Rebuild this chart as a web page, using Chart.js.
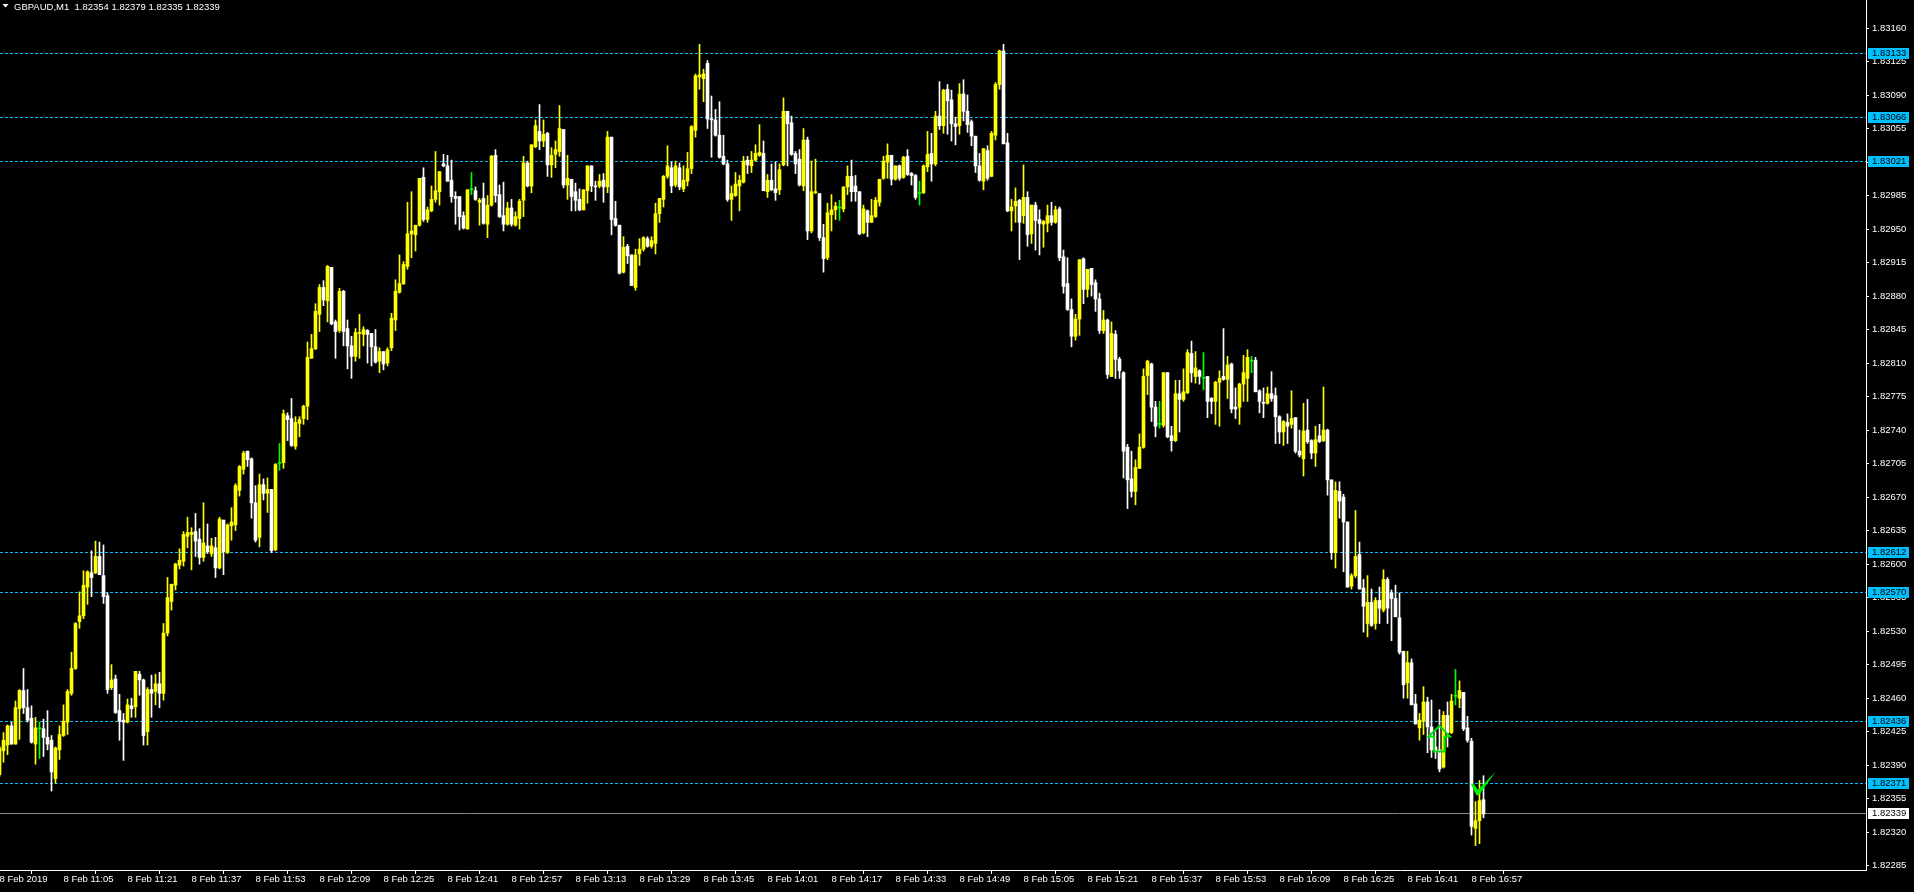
<!DOCTYPE html>
<html>
<head>
<meta charset="utf-8">
<title>GBPAUD,M1</title>
<script src="https://cdn.jsdelivr.net/npm/chart.js@4.4.1/dist/chart.umd.min.js"></script>
<style>
  html, body { margin: 0; padding: 0; background: #000; overflow: hidden; }
</style>
</head>
<body>
<canvas id="chart" width="1914" height="892"></canvas>
<script>
const symbol = "GBPAUD,M1";

// M1 bars from 10:49 to 17:00, prices in points (0.00001) above 1.82000
const basePrice = 1.82;
const open = [
  380, 405, 411, 431, 412, 449, 468, 450, 439, 412,
  428, 428, 419, 416, 376, 406, 421, 435, 465, 491,
  540, 546, 576, 591, 591, 608, 588, 567, 471, 480,
  447, 437, 435, 452, 451, 485, 479, 425, 469, 467,
  475, 465, 528, 561, 578, 599, 603, 629, 631, 634,
  626, 607, 619, 611, 617, 596, 646, 612, 640, 641,
  677, 699, 718, 710, 664, 628, 683, 674, 678, 615,
  705, 706, 755, 752, 723, 747, 752, 765, 815, 825,
  861, 889, 875, 910, 853, 844, 885, 846, 828, 817,
  841, 840, 844, 841, 827, 812, 822, 810, 826, 855,
  884, 893, 911, 945, 944, 954, 1004, 960, 969, 981,
  989, 1018, 1016, 1001, 984, 984, 964, 950, 991, 990,
  978, 982, 955, 975, 1027, 986, 964, 955, 972, 954,
  961, 980, 1019, 995, 1036, 1052, 1042, 1050, 1017, 1028,
  1031, 1054, 996, 1002, 989, 981, 970, 990, 1016, 995,
  995, 1001, 994, 1046, 961, 954, 905, 932, 923, 889,
  924, 929, 940, 932, 935, 966, 981, 1005, 1014, 996,
  1014, 992, 1000, 1013, 1053, 1109, 1107, 1123, 1065, 1064,
  1048, 1026, 1018, 981, 985, 995, 999, 1022, 1016, 1022,
  1027, 1029, 989, 1001, 992, 991, 1017, 1073, 1061, 1029,
  1023, 995, 1043, 948, 988, 987, 941, 920, 965, 970,
  972, 971, 994, 1005, 995, 989, 946, 969, 957, 963,
  978, 1003, 1020, 1027, 1002, 1016, 1004, 1026, 1008, 1006,
  987, 988, 1015, 1029, 1018, 1068, 1058, 1096, 1085, 1060,
  1058, 1091, 1073, 1062, 1047, 1016, 1000, 1032, 1005, 1048,
  1101, 1136, 1040, 969, 974, 980, 964, 983, 945, 975,
  960, 955, 956, 964, 957, 971, 921, 893, 866, 838,
  856, 919, 887, 909, 894, 877, 844, 855, 796, 840,
  814, 800, 722, 689, 676, 700, 722, 797, 809, 764,
  746, 745, 800, 734, 729, 778, 772, 779, 820, 796,
  802, 794, 796, 773, 770, 790, 796, 793, 809, 764,
  764, 788, 794, 812, 813, 781, 769, 768, 778, 776,
  754, 738, 748, 746, 753, 718, 710, 740, 729, 716,
  734, 729, 740, 688, 612, 676, 670, 644, 577, 588,
  610, 575, 538, 560, 538, 562, 552, 584, 570, 564,
  544, 509, 476, 497, 454, 429, 436, 456, 430, 409,
  406, 388, 442, 424, 462, 460, 466, 429, 415, 324,
  332, 354,
];
const high = [
  410, 424, 432, 435, 457, 469, 491, 469, 452, 440,
  435, 438, 447, 421, 409, 431, 453, 469, 508, 539,
  571, 593, 593, 614, 624, 623, 620, 570, 495, 484,
  464, 444, 459, 460, 488, 488, 480, 471, 484, 485,
  487, 538, 586, 579, 601, 616, 634, 649, 638, 653,
  637, 664, 642, 627, 628, 649, 646, 642, 659, 684,
  703, 718, 718, 711, 682, 694, 689, 690, 678, 705,
  726, 761, 758, 773, 754, 754, 766, 832, 840, 872,
  892, 896, 912, 910, 855, 888, 886, 855, 838, 846,
  861, 848, 845, 841, 845, 826, 822, 826, 862, 897,
  923, 916, 978, 989, 954, 1003, 1014, 973, 995, 1031,
  1010, 1028, 1027, 1022, 989, 984, 968, 991, 1009, 994,
  982, 998, 985, 1027, 1033, 996, 999, 978, 981, 968,
  981, 1026, 1021, 1038, 1064, 1080, 1064, 1051, 1035, 1042,
  1079, 1054, 1027, 1002, 998, 992, 991, 1016, 1016, 1000,
  1007, 1008, 1052, 1046, 979, 954, 942, 934, 923, 929,
  940, 942, 942, 942, 977, 982, 1006, 1037, 1020, 1021,
  1019, 1016, 1030, 1058, 1112, 1143, 1117, 1126, 1089, 1075,
  1083, 1048, 1022, 995, 1009, 1006, 1026, 1026, 1031, 1038,
  1059, 1042, 1007, 1018, 1020, 1018, 1087, 1073, 1068, 1031,
  1033, 1055, 1046, 1021, 1023, 987, 955, 977, 986, 978,
  980, 994, 1016, 1022, 1006, 989, 975, 970, 981, 983,
  1002, 1026, 1039, 1027, 1016, 1017, 1026, 1033, 1009, 1007,
  1000, 1017, 1052, 1050, 1073, 1104, 1096, 1101, 1095, 1067,
  1102, 1106, 1090, 1064, 1047, 1029, 1034, 1037, 1052, 1103,
  1137, 1143, 1050, 981, 993, 981, 1017, 989, 975, 978,
  970, 959, 975, 978, 974, 973, 928, 920, 877, 861,
  918, 920, 908, 909, 897, 883, 865, 856, 853, 844,
  816, 801, 725, 718, 709, 736, 804, 813, 810, 770,
  770, 800, 800, 744, 792, 792, 804, 824, 833, 822,
  803, 821, 796, 774, 791, 802, 846, 817, 810, 784,
  789, 818, 824, 817, 816, 782, 784, 785, 801, 784,
  755, 750, 757, 781, 753, 740, 768, 772, 730, 744,
  746, 785, 741, 688, 686, 686, 673, 644, 590, 656,
  623, 584, 588, 574, 565, 576, 594, 586, 573, 578,
  570, 509, 509, 501, 464, 444, 472, 461, 458, 425,
  448, 446, 456, 464, 490, 478, 466, 441, 418, 352,
  374, 379,
];
const low = [
  378, 393, 401, 412, 412, 417, 444, 435, 413, 391,
  397, 399, 406, 363, 371, 396, 420, 422, 463, 490,
  533, 543, 558, 566, 590, 589, 559, 465, 469, 444,
  416, 395, 434, 440, 440, 463, 411, 411, 440, 453,
  450, 458, 525, 552, 573, 595, 598, 617, 594, 608,
  600, 603, 611, 608, 586, 595, 589, 611, 625, 635,
  671, 694, 702, 648, 623, 618, 667, 654, 612, 614,
  698, 700, 729, 723, 720, 733, 746, 751, 815, 824,
  843, 870, 853, 850, 815, 842, 828, 804, 794, 812,
  815, 828, 810, 807, 810, 800, 803, 807, 823, 844,
  883, 892, 908, 920, 927, 953, 958, 957, 968, 978,
  975, 1015, 1000, 978, 955, 949, 950, 950, 986, 980,
  954, 955, 941, 974, 978, 962, 948, 954, 953, 953,
  950, 963, 994, 988, 1035, 1033, 1036, 1005, 1004, 1014,
  1026, 993, 981, 969, 969, 969, 970, 977, 989, 980,
  993, 978, 988, 944, 953, 903, 904, 914, 891, 886,
  912, 927, 931, 930, 924, 957, 973, 1003, 988, 994,
  991, 989, 995, 1008, 1046, 1096, 1083, 1055, 1025, 1047,
  1024, 1017, 979, 959, 984, 969, 998, 1008, 1009, 1021,
  1026, 990, 983, 990, 980, 986, 1016, 1016, 1027, 1008,
  995, 990, 939, 946, 987, 938, 905, 918, 948, 960,
  959, 968, 986, 979, 979, 944, 945, 942, 957, 962,
  974, 1002, 1003, 996, 1001, 1001, 1003, 1006, 996, 981,
  975, 987, 1010, 1000, 1016, 1054, 1050, 1049, 1042, 1038,
  1049, 1063, 1051, 1037, 1009, 1000, 991, 1001, 1005, 1043,
  1096, 1039, 968, 948, 957, 918, 956, 932, 935, 928,
  923, 931, 947, 954, 956, 917, 883, 865, 827, 834,
  839, 872, 879, 880, 864, 841, 841, 794, 796, 794,
  794, 690, 658, 670, 662, 700, 721, 777, 749, 733,
  742, 743, 732, 718, 728, 738, 770, 778, 790, 789,
  788, 782, 753, 757, 746, 744, 792, 773, 758, 752,
  746, 770, 770, 800, 780, 758, 753, 767, 770, 726,
  726, 724, 726, 742, 716, 712, 692, 726, 710, 702,
  727, 728, 672, 605, 596, 648, 592, 576, 574, 586,
  574, 529, 524, 535, 532, 538, 550, 538, 520, 545,
  506, 460, 460, 453, 433, 416, 422, 403, 398, 397,
  383, 387, 409, 423, 453, 450, 426, 414, 317, 306,
  308, 335,
];
const close = [
  408, 416, 431, 412, 450, 468, 450, 437, 414, 429,
  428, 419, 412, 383, 408, 422, 436, 467, 491, 538,
  546, 578, 592, 586, 608, 589, 566, 469, 479, 445,
  436, 435, 453, 449, 488, 479, 421, 469, 465, 475,
  465, 528, 565, 579, 600, 604, 631, 633, 633, 624,
  607, 622, 613, 619, 596, 647, 613, 641, 644, 682,
  702, 716, 709, 664, 625, 683, 674, 678, 614, 704,
  705, 757, 751, 724, 748, 751, 765, 816, 825, 864,
  889, 876, 911, 851, 843, 885, 843, 828, 817, 842,
  842, 845, 840, 827, 811, 822, 809, 824, 857, 885,
  893, 913, 945, 948, 954, 1003, 960, 970, 981, 990,
  1010, 1016, 1000, 984, 982, 963, 951, 991, 991, 981,
  980, 956, 975, 1026, 985, 963, 955, 972, 955, 963,
  979, 1019, 995, 1038, 1058, 1042, 1049, 1017, 1027, 1033,
  1055, 996, 1003, 984, 980, 970, 991, 1016, 995, 994,
  1000, 994, 1046, 960, 954, 904, 931, 922, 891, 923,
  929, 941, 932, 938, 966, 982, 1005, 1016, 995, 1016,
  994, 1001, 1013, 1057, 1110, 1111, 1112, 1065, 1064, 1048,
  1025, 1018, 981, 987, 997, 1001, 1021, 1017, 1022, 1029,
  1030, 990, 1001, 991, 988, 1012, 1073, 1060, 1028, 1018,
  996, 1043, 948, 989, 989, 941, 919, 967, 970, 974,
  972, 994, 1005, 989, 989, 945, 971, 957, 964, 980,
  1002, 1021, 1027, 1002, 1016, 1003, 1025, 1007, 1006, 983,
  987, 1016, 1028, 1018, 1068, 1058, 1095, 1084, 1060, 1057,
  1091, 1073, 1059, 1047, 1016, 1001, 1034, 1003, 1050, 1101,
  1136, 1039, 969, 973, 979, 957, 983, 944, 975, 959,
  956, 958, 964, 957, 970, 920, 890, 866, 838, 856,
  918, 887, 908, 892, 877, 844, 855, 798, 841, 814,
  802, 718, 688, 676, 701, 722, 796, 812, 764, 744,
  746, 800, 733, 729, 778, 772, 780, 821, 800, 805,
  796, 794, 770, 770, 790, 794, 793, 808, 762, 762,
  788, 800, 816, 812, 780, 770, 768, 778, 773, 754,
  738, 749, 744, 752, 718, 714, 739, 728, 716, 730,
  728, 740, 688, 612, 677, 666, 644, 576, 588, 608,
  574, 556, 560, 536, 562, 554, 584, 554, 564, 545,
  508, 474, 497, 453, 433, 437, 456, 430, 406, 404,
  386, 442, 424, 457, 462, 468, 428, 416, 326, 332,
  353, 339,
];

// one time label every 16 bars, starting at bar 0
const barsPerLabel = 16;
const timeLabels = [
  "8 Feb 2019", "8 Feb 11:05", "8 Feb 11:21", "8 Feb 11:37", "8 Feb 11:53",
  "8 Feb 12:09", "8 Feb 12:25", "8 Feb 12:41", "8 Feb 12:57", "8 Feb 13:13",
  "8 Feb 13:29", "8 Feb 13:45", "8 Feb 14:01", "8 Feb 14:17", "8 Feb 14:33",
  "8 Feb 14:49", "8 Feb 15:05", "8 Feb 15:21", "8 Feb 15:37", "8 Feb 15:53",
  "8 Feb 16:09", "8 Feb 16:25", "8 Feb 16:41", "8 Feb 16:57",
];

const priceTicks = [
  1.82285, 1.8232, 1.82355, 1.8239, 1.82425, 1.8246, 1.82495, 1.8253, 1.82565,
  1.826, 1.82635, 1.8267, 1.82705, 1.8274, 1.82775, 1.8281, 1.82845, 1.8288,
  1.82915, 1.8295, 1.82985, 1.8302, 1.83055, 1.8309, 1.83125, 1.8316,
];

// horizontal lines drawn on the chart
const levelLines = [1.83133, 1.83066, 1.83021, 1.82612, 1.8257, 1.82436, 1.82371];

// objects: up arrow and check mark (bar index, price)
const arrowAt = { bar: 360, price: 1.82431 };
const checkAt = { bar: 369.45, price: 1.82359 };

const fontFamily = "'Liberation Sans', Arial, sans-serif";
const fontSize = 9.5;
const levelColor = "#00bfff";

const toPrice = (p) => basePrice + p / 100000;
const lastBar = open.length - 1;
const lastPrice = toPrice(close[lastBar]);

const candleColor = (i) => {
  if (close[i] > open[i]) return "#ffff00";
  if (close[i] < open[i]) return "#ffffff";
  return "#00ff00";
};

const colors = open.map((_, i) => candleColor(i));
const bodies = open.map((o, i) => ({ x: i, y: [toPrice(o), toPrice(close[i])] }));
const wicks = open.map((_, i) => ({ x: i, y: [toPrice(low[i]), toPrice(high[i])] }));

const chartBackground = {
  id: "chartBackground",
  beforeDraw(chart) {
    const { ctx, width, height } = chart;
    ctx.save();
    ctx.fillStyle = "#000000";
    ctx.fillRect(0, 0, width, height);
    ctx.restore();
  },
};

const hLine = (ctx, area, py) => {
  ctx.beginPath();
  ctx.moveTo(area.left, py);
  ctx.lineTo(area.right, py);
  ctx.stroke();
};

const priceLevels = {
  id: "priceLevels",
  beforeDatasetsDraw(chart) {
    const { ctx, chartArea } = chart;
    const yScale = chart.scales.y;
    ctx.save();
    ctx.lineWidth = 1;
    ctx.strokeStyle = levelColor;
    ctx.setLineDash([3, 2]);
    levelLines.forEach((price) => {
      hLine(ctx, chartArea, Math.floor(yScale.getPixelForValue(price)) + 0.5);
    });
    ctx.setLineDash([]);
    ctx.strokeStyle = "#7f8a96";
    hLine(ctx, chartArea, Math.floor(yScale.getPixelForValue(lastPrice)) + 0.5);
    ctx.restore();
  },
  afterDraw(chart) {
    const { ctx, chartArea } = chart;
    const yScale = chart.scales.y;
    const tag = (price, fill) => {
      const py = Math.floor(yScale.getPixelForValue(price)) + 0.5;
      ctx.fillStyle = fill;
      ctx.fillRect(chartArea.right + 2, Math.round(py - 5.5), 41, 11);
      ctx.fillStyle = "#000000";
      ctx.fillText(price.toFixed(5), chartArea.right + 6, py);
    };
    ctx.save();
    ctx.font = `${fontSize}px ${fontFamily}`;
    ctx.textBaseline = "middle";
    ctx.textAlign = "left";
    levelLines.forEach((price) => tag(price, levelColor));
    tag(lastPrice, "#ffffff");
    ctx.restore();
  },
};

const chartObjects = {
  id: "chartObjects",
  afterDatasetsDraw(chart) {
    const { ctx } = chart;
    const { x, y } = chart.scales;
    ctx.save();

    // up arrow, outline
    const ax = x.getPixelForValue(arrowAt.bar);
    const ay = y.getPixelForValue(arrowAt.price);
    ctx.strokeStyle = "#00e000";
    ctx.lineWidth = 2;
    ctx.lineJoin = "miter";
    ctx.beginPath();
    ctx.moveTo(ax, ay);
    ctx.lineTo(ax + 10.5, ay + 10.5);
    ctx.lineTo(ax + 5, ay + 10.5);
    ctx.lineTo(ax + 5, ay + 25.5);
    ctx.lineTo(ax - 5.5, ay + 25.5);
    ctx.lineTo(ax - 5.5, ay + 10.5);
    ctx.lineTo(ax - 11, ay + 10.5);
    ctx.closePath();
    ctx.stroke();

    // check mark
    const cx = x.getPixelForValue(checkAt.bar);
    const cy = y.getPixelForValue(checkAt.price);
    ctx.fillStyle = "#00ee00";
    ctx.beginPath();
    ctx.moveTo(cx - 6.5, cy - 11);
    ctx.lineTo(cx - 3.5, cy - 11);
    ctx.lineTo(cx + 0.5, cy - 5);
    ctx.lineTo(cx + 18.5, cy - 23);
    ctx.lineTo(cx + 1.5, cy + 0.5);
    ctx.lineTo(cx - 1, cy + 0.5);
    ctx.closePath();
    ctx.fill();

    ctx.restore();
  },
};

const chartTitle = {
  id: "chartTitle",
  afterDraw(chart) {
    const { ctx } = chart;
    const values = [open, high, low, close]
      .map((series) => toPrice(series[lastBar]).toFixed(5))
      .join(" ");
    ctx.save();
    ctx.fillStyle = "#ffffff";
    ctx.beginPath();
    ctx.moveTo(2.5, 4);
    ctx.lineTo(8.5, 4);
    ctx.lineTo(5.5, 7.5);
    ctx.closePath();
    ctx.fill();
    ctx.font = `${fontSize}px ${fontFamily}`;
    ctx.textBaseline = "alphabetic";
    ctx.textAlign = "left";
    ctx.fillText(`${symbol}  ${values}`, 14, 9.5);
    ctx.restore();
  },
};

const axisFont = { family: fontFamily, size: fontSize };

new Chart(document.getElementById("chart"), {
  type: "bar",
  data: {
    datasets: [
      {
        data: wicks,
        backgroundColor: colors,
        borderWidth: 0,
        barThickness: 1,
        grouped: false,
        order: 2,
      },
      {
        data: bodies,
        backgroundColor: colors,
        borderWidth: 0,
        barThickness: 3,
        minBarLength: 1,
        grouped: false,
        order: 1,
      },
    ],
  },
  options: {
    responsive: false,
    animation: false,
    events: [],
    layout: { padding: 0 },
    plugins: {
      legend: { display: false },
      tooltip: { enabled: false },
      title: { display: false },
    },
    scales: {
      x: {
        type: "linear",
        position: "bottom",
        offset: false,
        min: 0.125,
        max: 466.625,
        grid: {
          drawOnChartArea: false,
          drawTicks: true,
          tickLength: 4,
          tickColor: "#ffffff",
        },
        border: { display: true, color: "#ffffff", width: 1 },
        ticks: {
          autoSkip: false,
          maxRotation: 0,
          minRotation: 0,
          align: "start",
          padding: 0,
          color: "#ffffff",
          font: axisFont,
          callback: (value, index) => timeLabels[index],
        },
        afterBuildTicks: (scale) => {
          scale.ticks = timeLabels.map((_, k) => ({ value: k * barsPerLabel }));
        },
        afterFit: (scale) => {
          scale.height = 22;
          scale.paddingLeft = 0;
          scale.paddingRight = 0;
        },
      },
      y: {
        type: "linear",
        position: "right",
        min: 1.822805,
        max: 1.8318925,
        grid: {
          drawOnChartArea: false,
          drawTicks: true,
          tickLength: 3,
          tickColor: "#ffffff",
        },
        border: { display: true, color: "#ffffff", width: 1 },
        ticks: {
          autoSkip: false,
          padding: 3,
          color: "#ffffff",
          font: axisFont,
          callback: (value) => value.toFixed(5),
        },
        afterBuildTicks: (scale) => {
          scale.ticks = priceTicks.map((value) => ({ value }));
        },
        afterFit: (scale) => {
          scale.width = 48;
          scale.paddingTop = 0;
          scale.paddingBottom = 0;
        },
      },
    },
  },
  plugins: [chartBackground, priceLevels, chartObjects, chartTitle],
});
</script>
</body>
</html>
